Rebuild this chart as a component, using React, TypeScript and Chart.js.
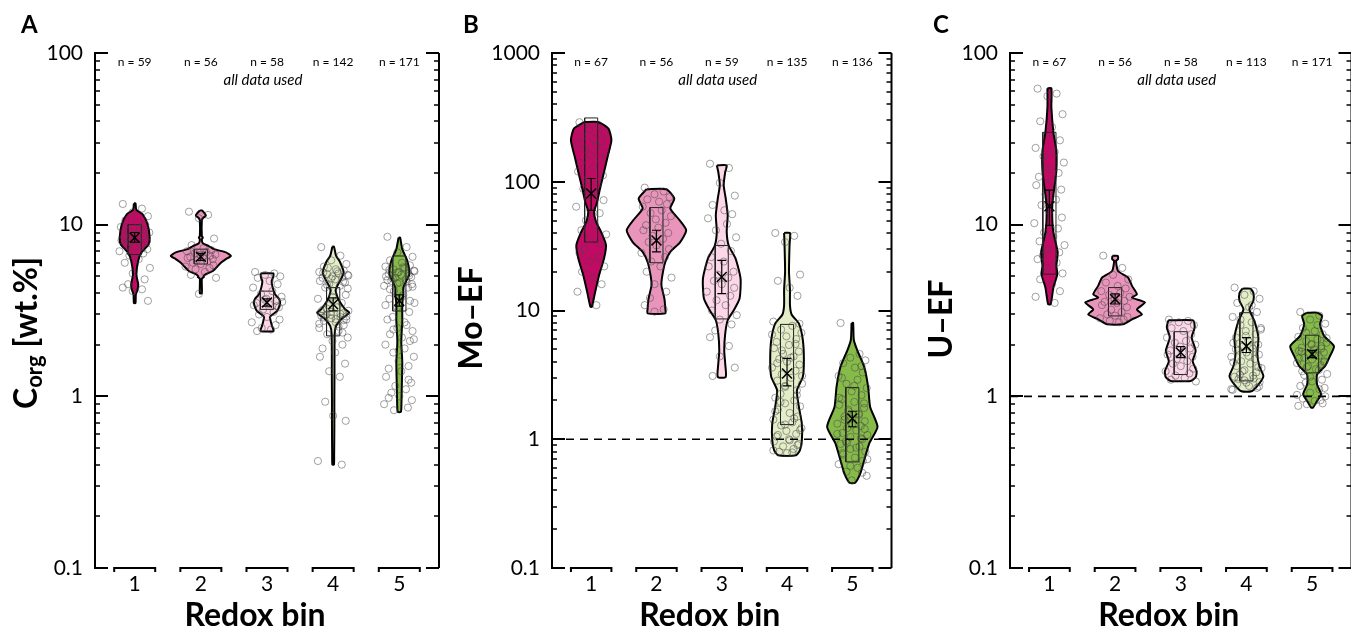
import React, { useEffect, useRef } from 'react';
import { Chart, registerables } from 'chart.js';

Chart.register(...registerables);
Chart.defaults.font.family = 'Lato';
Chart.defaults.color = '#000';

// ---------------- shared data ----------------
const BINS = [1, 2, 3, 4, 5];
const BIN_COLORS = ['#c20a64', '#e995bb', '#fcd7e8', '#e3edc8', '#86bb4a'];
// fixed horizontal jitter offsets (in bin units) for the scatter of samples
const JITTER = [-0.18, 0.11, -0.03, 0.2, -0.14, 0.04, 0.16, -0.21, 0.08, -0.09, 0.22, -0.01, 0.14, -0.16, 0.03, -0.2, 0.18, -0.06, 0.1, -0.12, 0.0, 0.19, -0.23, 0.13, -0.08, 0.06, -0.15, 0.23, -0.03, 0.15, -0.1];

// ---------------- Panel A : C_org ----------------
const A_N = [59, 56, 58, 142, 171];
const A_Y_TICKS = [0.1, 1, 10, 100];
// violin profiles: [value, half-width (bin units)]
const A_VIOLINS = [
  [[13.3, 0.012], [12.2, 0.025], [11.5, 0.12], [10.0, 0.197], [8.4, 0.227], [7.7, 0.212], [6.9, 0.106], [6.16, 0.053], [5.1, 0.026], [4.5, 0.053], [4.2, 0.045], [3.93, 0.018], [3.5, 0.012]],
  [[12.1, 0.015], [11.6, 0.06], [11.3, 0.076], [10.9, 0.03], [10.6, 0.015], [8.6, 0.015], [8.4, 0.03], [8.2, 0.015], [7.8, 0.03], [7.5, 0.12], [7.2, 0.2], [6.9, 0.379], [6.57, 0.455], [6.3, 0.379], [6.0, 0.303], [5.75, 0.258], [5.37, 0.182], [5.15, 0.076], [5.0, 0.04], [4.95, 0.045], [4.85, 0.015], [3.98, 0.015]],
  [[5.2, 0.098], [4.9, 0.09], [4.7, 0.071], [4.4, 0.08], [3.93, 0.121], [3.7, 0.18], [3.52, 0.2], [3.3, 0.18], [3.14, 0.152], [2.95, 0.06], [2.88, 0.045], [2.7, 0.06], [2.57, 0.076], [2.4, 0.098]],
  [[7.45, 0.012], [6.57, 0.045], [6.1, 0.1], [5.26, 0.159], [4.75, 0.11], [4.3, 0.05], [4.1, 0.038], [3.6, 0.091], [3.21, 0.182], [3.07, 0.242], [2.81, 0.121], [2.57, 0.045], [2.3, 0.023], [1.38, 0.02], [0.94, 0.018], [0.67, 0.018], [0.45, 0.015], [0.4, 0.012]],
  [[8.4, 0.012], [7.2, 0.045], [6.16, 0.121], [5.15, 0.152], [4.7, 0.106], [4.3, 0.061], [3.93, 0.061], [3.44, 0.045], [2.75, 0.045], [2.46, 0.038], [2.06, 0.03], [1.58, 0.045], [1.15, 0.038], [0.84, 0.03], [0.81, 0.02]],
];
const A_BOX = [[6.7, 10.0], [5.9, 7.2], [3.21, 4.1], [2.25, 4.3], [3.14, 6.57]];
const A_MEAN = [8.4, 6.5, 3.52, 3.44, 3.6];
const A_ERR = [[7.9, 9.0], [6.2, 6.8], [3.35, 3.7], [3.15, 3.75], [3.35, 3.9]];
const A_POINTS = [
  [13.2, 12.4, 11.8, 11.2, 10.6, 10.3, 10.0, 9.7, 9.5, 9.2, 9.0, 8.8, 8.6, 8.5, 8.3, 8.1, 8.0, 7.9, 7.7, 7.5, 7.4, 7.2, 7.0, 6.8, 6.6, 6.3, 6.0, 5.6, 5.2, 4.8, 4.5, 4.3, 4.2, 4.1, 3.6],
  [11.9, 11.4, 10.9, 8.3, 7.6, 7.3, 7.1, 7.0, 6.9, 6.8, 6.7, 6.65, 6.6, 6.5, 6.45, 6.4, 6.3, 6.2, 6.1, 6.0, 5.9, 5.8, 5.7, 5.6, 5.5, 5.3, 5.1, 4.9, 3.95],
  [5.3, 5.2, 5.1, 5.0, 4.9, 4.7, 4.5, 4.3, 4.1, 3.95, 3.8, 3.7, 3.6, 3.5, 3.45, 3.4, 3.3, 3.2, 3.1, 3.0, 2.9, 2.8, 2.7, 2.6, 2.5, 2.45, 2.4, 3.55, 3.65, 3.35],
  [7.4, 6.6, 6.2, 5.9, 5.7, 5.5, 5.4, 5.3, 5.2, 5.15, 5.1, 5.0, 4.95, 4.9, 4.8, 4.7, 4.6, 4.5, 4.4, 4.3, 4.1, 3.9, 3.7, 3.5, 3.4, 3.3, 3.2, 3.15, 3.1, 3.05, 3.0, 2.95, 2.9, 2.85, 2.8, 2.75, 2.7, 2.6, 2.5, 2.4, 2.3, 2.2, 2.1, 2.0, 1.9, 1.8, 1.7, 1.55, 1.4, 1.3, 0.93, 0.77, 0.72, 0.42, 0.4,
    5.6, 5.35, 5.25, 5.05, 4.85, 4.65, 3.25, 3.12, 3.02, 2.98, 2.92, 2.88, 2.82, 2.78, 2.65, 2.55, 4.45, 4.25, 3.8, 2.35],
  [8.5, 7.4, 6.9, 6.5, 6.2, 6.0, 5.8, 5.7, 5.6, 5.5, 5.4, 5.3, 5.2, 5.15, 5.1, 5.0, 4.95, 4.9, 4.8, 4.7, 4.6, 4.5, 4.4, 4.3, 4.1, 3.9, 3.7, 3.5, 3.3, 3.1, 2.9, 2.8, 2.6, 2.5, 2.4, 2.3, 2.2, 2.1, 2.0, 1.9, 1.8, 1.7, 1.6, 1.5, 1.45, 1.4, 1.3, 1.2, 1.15, 1.1, 1.05, 1.0, 0.95, 0.9, 0.86, 0.83,
    5.65, 5.45, 5.35, 5.25, 5.05, 4.85, 4.75, 4.65, 4.55, 4.35, 4.2, 3.8, 3.6, 3.4, 2.7, 2.45, 2.15, 1.85, 1.25, 0.98],
];

// ---------------- Panel B : Mo-EF ----------------
const B_N = [67, 56, 59, 135, 136];
const B_Y_TICKS = [0.1, 1, 10, 100, 1000];
const B_VIOLINS = [
  [[291, 0.106], [259, 0.265], [210, 0.31], [161, 0.258], [119, 0.197], [88.5, 0.136], [69.7, 0.091], [58.3, 0.045], [48.7, 0.076], [40.8, 0.152], [32.2, 0.227], [25.3, 0.197], [18.8, 0.121], [13.9, 0.061], [10.7, 0.012]],
  [[87.5, 0.152], [74, 0.273], [62, 0.212], [51.8, 0.333], [42, 0.455], [34, 0.364], [28.5, 0.212], [23.8, 0.136], [18.8, 0.091], [15.7, 0.076], [12.4, 0.121], [10.3, 0.136], [9.5, 0.136]],
  [[134, 0.076], [119, 0.053], [94, 0.03], [74, 0.061], [55, 0.091], [40.8, 0.076], [32, 0.106], [25.3, 0.212], [17.7, 0.288], [12.4, 0.273], [10, 0.182], [8.4, 0.091], [6.6, 0.053], [4.9, 0.038], [3.87, 0.053], [3.05, 0.061]],
  [[40, 0.045], [32, 0.038], [20, 0.03], [14.5, 0.045], [11, 0.045], [9.3, 0.07], [7.9, 0.182], [5.9, 0.242], [4.1, 0.258], [3.05, 0.242], [2.4, 0.152], [1.78, 0.182], [1.32, 0.227], [0.98, 0.227], [0.82, 0.197], [0.75, 0.136]],
  [[8.0, 0.012], [5.9, 0.023], [4.9, 0.076], [3.65, 0.182], [2.55, 0.242], [1.78, 0.273], [1.25, 0.386], [0.925, 0.258], [0.687, 0.182], [0.54, 0.121], [0.46, 0.045]],
];
const B_BOX = [[34, 313], [23.5, 63], [8.6, 32], [1.3, 7.8], [0.667, 2.52]];
const B_MEAN = [81, 35, 18.2, 3.24, 1.45];
const B_ERR = [[60, 106], [28.5, 42], [13.5, 24.5], [2.6, 4.25], [1.25, 1.65]];
const B_POINTS = [
  [290, 275, 255, 240, 225, 215, 205, 198, 190, 180, 170, 160, 150, 140, 130, 120, 112, 104, 96, 88, 80, 72, 64, 57, 50, 46, 42, 39, 36, 33, 30, 28, 26, 24, 22, 20, 18, 16, 14, 11],
  [90, 84, 80, 76, 73, 70, 67, 64, 60, 57, 54, 51, 48, 46, 44, 42, 40, 38, 36, 34, 32, 30, 28, 26, 24, 22, 20, 18, 16, 14, 12.5, 11, 10.2, 9.8],
  [138, 128, 98, 78, 66, 60, 56, 52, 47, 42, 37, 33, 29, 26, 24, 22, 20, 19, 18, 17, 16, 15, 14, 13, 12, 11, 10, 9.2, 8.5, 7.8, 7, 6.2, 5.3, 4.4, 3.6, 3.1],
  [40, 38, 34, 19, 17, 15, 13, 8.2, 7.6, 7.1, 6.7, 6.3, 6.0, 5.7, 5.4, 5.1, 4.8, 4.6, 4.4, 4.2, 4.0, 3.8, 3.6, 3.4, 3.2, 3.0, 2.85, 2.7, 2.55, 2.4, 2.25, 2.1, 2.0, 1.9, 1.8, 1.7, 1.6, 1.5, 1.42, 1.35, 1.28, 1.22, 1.16, 1.1, 1.05, 1.0, 0.96, 0.92, 0.88, 0.84, 0.8, 0.78,
    7.9, 6.5, 5.5, 4.9, 4.3, 3.9, 3.1, 2.6, 2.2, 1.95, 1.65, 1.45, 1.3, 1.18, 1.08, 0.98, 0.9, 0.82, 0.79],
  [8.0, 4.6, 4.3, 4.1, 3.9, 3.6, 3.3, 3.1, 2.9, 2.7, 2.5, 2.35, 2.2, 2.05, 1.95, 1.85, 1.75, 1.65, 1.58, 1.5, 1.44, 1.38, 1.32, 1.27, 1.22, 1.17, 1.12, 1.08, 1.04, 1.0, 0.96, 0.92, 0.88, 0.84, 0.8, 0.76, 0.72, 0.68, 0.64, 0.6, 0.56, 0.52, 0.48,
    3.7, 3.0, 2.6, 2.1, 1.9, 1.7, 1.55, 1.42, 1.3, 1.2, 1.1, 1.02, 0.94, 0.86, 0.78, 0.7, 0.62, 0.55],
];

// ---------------- Panel C : U-EF ----------------
const C_N = [67, 56, 58, 113, 171];
const C_Y_TICKS = [0.1, 1, 10, 100];
const C_VIOLINS = [
  [[62.3, 0.03], [48.2, 0.03], [34.5, 0.061], [26.9, 0.106], [20.6, 0.106], [16.5, 0.076], [13.2, 0.045], [10.5, 0.045], [9.0, 0.061], [6.9, 0.126], [5.76, 0.106], [5.15, 0.121], [4.3, 0.061], [3.44, 0.02]],
  [[6.58, 0.04], [6.3, 0.045], [6.16, 0.015], [5.37, 0.045], [4.92, 0.197], [4.4, 0.258], [3.93, 0.333], [3.76, 0.258], [3.52, 0.455], [3.21, 0.333], [3.0, 0.409], [2.81, 0.258], [2.63, 0.121]],
  [[2.77, 0.189], [2.52, 0.212], [2.2, 0.167], [1.84, 0.227], [1.6, 0.182], [1.4, 0.242], [1.29, 0.227], [1.23, 0.152]],
  [[4.24, 0.06], [4.0, 0.106], [3.6, 0.106], [3.21, 0.045], [2.75, 0.121], [2.2, 0.182], [1.76, 0.167], [1.5, 0.197], [1.31, 0.258], [1.17, 0.182], [1.07, 0.076]],
  [[3.07, 0.08], [2.94, 0.152], [2.63, 0.121], [2.25, 0.182], [1.96, 0.333], [1.72, 0.273], [1.5, 0.197], [1.34, 0.076], [1.17, 0.076], [1.03, 0.136], [0.94, 0.076], [0.86, 0.015]],
];
const C_BOX = [[5.15, 34.5], [2.94, 4.3], [1.34, 2.38], [1.23, 3.07], [1.37, 2.27]];
const C_MEAN = [12.8, 3.68, 1.8, 1.96, 1.76];
const C_ERR = [[9.9, 15.9], [3.45, 3.95], [1.68, 1.95], [1.8, 2.2], [1.68, 1.85]];
const C_POINTS = [
  [62, 58, 56, 44, 40, 37, 31, 28, 26.5, 25, 23, 21, 20, 19, 18, 17, 16, 15, 14, 13, 12, 11, 10.2, 9.5, 9, 8.5, 8, 7.6, 7.2, 6.9, 6.6, 6.3, 6, 5.6, 5.2, 4.8, 4.5, 4.1, 3.8, 3.5],
  [6.6, 5.6, 5.1, 4.8, 4.6, 4.4, 4.25, 4.1, 4.0, 3.9, 3.8, 3.7, 3.6, 3.55, 3.5, 3.4, 3.3, 3.2, 3.1, 3.0, 2.95, 2.9, 2.85, 2.8, 2.75, 2.7],
  [2.8, 2.75, 2.7, 2.6, 2.5, 2.4, 2.3, 2.2, 2.1, 2.05, 2.0, 1.95, 1.9, 1.85, 1.8, 1.75, 1.7, 1.65, 1.6, 1.55, 1.5, 1.45, 1.4, 1.36, 1.32, 1.28, 1.25, 1.22],
  [4.3, 4.1, 3.9, 3.7, 3.5, 3.3, 3.1, 2.9, 2.7, 2.6, 2.5, 2.4, 2.3, 2.2, 2.1, 2.05, 2.0, 1.95, 1.9, 1.85, 1.8, 1.75, 1.7, 1.65, 1.6, 1.55, 1.5, 1.46, 1.42, 1.38, 1.34, 1.3, 1.27, 1.24, 1.21, 1.18, 1.15, 1.12, 1.09,
    3.4, 2.8, 2.45, 2.25, 1.98, 1.88, 1.72, 1.58, 1.48, 1.4, 1.32, 1.26, 1.2, 1.14, 1.1],
  [3.1, 2.95, 2.8, 2.65, 2.5, 2.4, 2.3, 2.22, 2.15, 2.1, 2.05, 2.0, 1.96, 1.92, 1.88, 1.84, 1.8, 1.76, 1.72, 1.68, 1.64, 1.6, 1.56, 1.52, 1.48, 1.44, 1.4, 1.35, 1.3, 1.25, 1.2, 1.15, 1.1, 1.05, 1.0, 0.97, 0.94, 0.91, 0.88,
    2.6, 2.35, 2.18, 2.02, 1.9, 1.82, 1.74, 1.66, 1.58, 1.5, 1.42, 1.33, 1.22, 1.12, 1.02, 0.95, 0.9],
];

// ---------------- panel tables ----------------
const PANELS = [
  { letter: 'A', yTicks: A_Y_TICKS, n: A_N, violins: A_VIOLINS, box: A_BOX, mean: A_MEAN, err: A_ERR, points: A_POINTS, refLine: false,
    yTitle: [{ text: 'C', size: 32, dy: 0 }, { text: 'org', size: 22, dy: 5 }, { text: ' [wt.%]', size: 32, dy: 0 }] },
  { letter: 'B', yTicks: B_Y_TICKS, n: B_N, violins: B_VIOLINS, box: B_BOX, mean: B_MEAN, err: B_ERR, points: B_POINTS, refLine: true,
    yTitle: [{ text: 'Mo–EF', size: 32, dy: 0 }] },
  { letter: 'C', yTicks: C_Y_TICKS, n: C_N, violins: C_VIOLINS, box: C_BOX, mean: C_MEAN, err: C_ERR, points: C_POINTS, refLine: true,
    yTitle: [{ text: 'U–EF', size: 32, dy: 0 }] },
];

const LAYOUT = [
  { left: 0, width: 450, yWidth: 95, padRight: 11, letterX: 21, yTitleX: 37, yTitleY: 333 },
  { left: 450, width: 450, yWidth: 102, padRight: 4, letterX: 13, yTitleX: 32, yTitleY: 318 },
  { left: 900, width: 460, yWidth: 110, padRight: 7, letterX: 33, yTitleX: 52, yTitleY: 319 },
];

const X_MIN = 0.4;
const X_MAX = 5.6;
const BOX_HALF = 0.1;
const CAP_HALF = 0.068;
const BRACKET_HALF = 0.31;

function violinPolygon(prof: number[][], b: number) {
  const left = prof.map(([v, w]) => ({ x: b - w, y: v }));
  const right = [...prof].reverse().map(([v, w]) => ({ x: b + w, y: v }));
  return [...left, ...right, left[0]];
}

const violinFill = {
  id: 'violinFill',
  beforeDatasetDraw(chart: any, args: any) {
    const ds = chart.data.datasets[args.index];
    if (!ds.violinColor) return;
    const { ctx, chartArea } = chart;
    ctx.save();
    ctx.beginPath();
    ctx.rect(chartArea.left, chartArea.top, chartArea.right - chartArea.left, chartArea.bottom - chartArea.top);
    ctx.clip();
    ctx.beginPath();
    args.meta.dataset.path(ctx);
    ctx.closePath();
    ctx.fillStyle = ds.violinColor;
    ctx.fill();
    ctx.restore();
  },
};

function makeChart(canvas: HTMLCanvasElement, panel: any, layout: any) {
  const datasets: any[] = [];
  panel.violins.forEach((prof: number[][], i: number) => {
    datasets.push({
      type: 'line', data: violinPolygon(prof, BINS[i]), violinColor: BIN_COLORS[i],
      borderColor: '#000', borderWidth: 2, fill: false, pointRadius: 0, tension: 0.2, order: 6,
    });
  });
  datasets.push({
    type: 'line',
    data: panel.box.flatMap(([lo, hi]: number[], i: number) => {
      const b = BINS[i];
      return [{ x: b - BOX_HALF, y: lo }, { x: b + BOX_HALF, y: lo }, { x: b + BOX_HALF, y: hi }, { x: b - BOX_HALF, y: hi }, { x: b - BOX_HALF, y: lo }, { x: b, y: null }];
    }),
    borderColor: '#222', borderWidth: 1, fill: false, pointRadius: 0, tension: 0, order: 5,
  });
  datasets.push({
    type: 'line',
    data: panel.points.flatMap((vals: number[], i: number) => vals.map((v, j) => ({ x: BINS[i] + JITTER[j % JITTER.length], y: v }))),
    showLine: false, pointRadius: 3.6, pointBorderWidth: 1, pointBackgroundColor: 'rgba(0,0,0,0)',
    pointBorderColor: 'rgba(70,70,70,0.5)', order: 4,
  });
  datasets.push({
    type: 'line',
    data: panel.err.flatMap(([lo, hi]: number[], i: number) => {
      const b = BINS[i];
      return [{ x: b - CAP_HALF, y: hi }, { x: b + CAP_HALF, y: hi }, { x: b, y: null }, { x: b, y: hi }, { x: b, y: lo }, { x: b, y: null }, { x: b - CAP_HALF, y: lo }, { x: b + CAP_HALF, y: lo }, { x: b, y: null }];
    }),
    borderColor: '#000', borderWidth: 1.2, fill: false, pointRadius: 0, order: 2,
  });
  datasets.push({
    type: 'line',
    data: panel.mean.map((m: number, i: number) => ({ x: BINS[i], y: m })),
    showLine: false, pointStyle: 'crossRot', pointRadius: 7, pointBorderWidth: 1.5, pointBorderColor: '#000', order: 2,
  });
  if (panel.refLine) {
    datasets.push({
      type: 'line', data: [{ x: X_MIN, y: 1 }, { x: X_MAX, y: 1 }],
      borderColor: '#000', borderWidth: 1.6, borderDash: [8, 6], pointRadius: 0, fill: false, order: 1,
    });
  }

  const decor = {
    id: 'decor',
    afterDraw(chart: any) {
      const { ctx, chartArea: ca, scales } = chart;
      const x = scales.x, y = scales.y;
      ctx.save();
      ctx.strokeStyle = '#000';
      ctx.lineWidth = 2;
      ctx.beginPath();
      ctx.moveTo(ca.right, ca.top);
      ctx.lineTo(ca.right, ca.bottom);
      ctx.stroke();
      const lo = Math.round(Math.log10(y.min));
      const hi = Math.round(Math.log10(y.max));
      for (let d = lo; d <= hi; d++) {
        for (let m = 1; m <= 9; m++) {
          const v = m * Math.pow(10, d);
          if (v > y.max * 1.0001) break;
          const py = Math.round(y.getPixelForValue(v));
          const len = m === 1 ? 13 : 5;
          ctx.lineWidth = m === 1 ? 2 : 1.5;
          ctx.beginPath();
          ctx.moveTo(ca.left, py);
          ctx.lineTo(ca.left + len, py);
          ctx.moveTo(ca.right - len, py);
          ctx.lineTo(ca.right, py);
          ctx.stroke();
        }
      }
      ctx.lineWidth = 2;
      BINS.forEach((b) => {
        const x1 = x.getPixelForValue(b - BRACKET_HALF);
        const x2 = x.getPixelForValue(b + BRACKET_HALF);
        ctx.beginPath();
        ctx.moveTo(x1, ca.bottom + 4);
        ctx.lineTo(x1, ca.bottom);
        ctx.lineTo(x2, ca.bottom);
        ctx.lineTo(x2, ca.bottom + 4);
        ctx.stroke();
      });
      ctx.fillStyle = '#000';
      ctx.textAlign = 'center';
      ctx.textBaseline = 'middle';
      ctx.font = '12px Lato';
      panel.n.forEach((n: number, i: number) => ctx.fillText(`n = ${n}`, x.getPixelForValue(BINS[i]), 62));
      ctx.font = 'italic 15px Lato';
      ctx.fillText('all data used', (ca.left + ca.right) / 2 - 4, 80);
      ctx.textBaseline = 'alphabetic';
      ctx.font = 'bold 32px Lato';
      ctx.fillText('Redox bin', (ca.left + ca.right) / 2 - 12, 626);
      ctx.textAlign = 'left';
      ctx.font = 'bold 24px Lato';
      ctx.fillText(panel.letter, layout.letterX, 33);
      // rotated y title
      ctx.save();
      ctx.translate(layout.yTitleX, layout.yTitleY);
      ctx.rotate(-Math.PI / 2);
      let total = 0;
      const widths = panel.yTitle.map((p: any) => {
        ctx.font = `bold ${p.size}px Lato`;
        const w = ctx.measureText(p.text).width;
        total += w;
        return w;
      });
      let cx = -total / 2;
      panel.yTitle.forEach((p: any, i: number) => {
        ctx.font = `bold ${p.size}px Lato`;
        ctx.fillText(p.text, cx, p.dy);
        cx += widths[i];
      });
      ctx.restore();
      ctx.restore();
    },
  };

  return new Chart(canvas, {
    type: 'line',
    data: { datasets },
    options: {
      responsive: false,
      animation: false,
      events: [],
      layout: { padding: { left: 0, right: layout.padRight, top: 53, bottom: 0 } },
      plugins: { legend: { display: false }, tooltip: { enabled: false } },
      scales: {
        x: {
          type: 'linear', min: X_MIN, max: X_MAX,
          afterBuildTicks: (s: any) => { s.ticks = BINS.map((v) => ({ value: v })); },
          afterFit: (s: any) => { s.height = 61; },
          ticks: { autoSkip: false, maxRotation: 0, padding: 4, font: { size: 21 }, color: '#000', callback: (v: any) => String(v) },
          grid: { display: false, drawTicks: false },
          border: { display: false },
        },
        y: {
          type: 'logarithmic', min: panel.yTicks[0], max: panel.yTicks[panel.yTicks.length - 1],
          afterBuildTicks: (s: any) => { s.ticks = panel.yTicks.map((v: number) => ({ value: v })); },
          afterFit: (s: any) => { s.width = layout.yWidth; },
          ticks: { autoSkip: false, padding: 12, font: { size: 21 }, color: '#000', callback: (v: any) => String(v) },
          grid: { display: false, drawTicks: false },
          border: { display: true, color: '#000', width: 2 },
        },
      },
    } as any,
    plugins: [violinFill, decor],
  } as any);
}

function Panel({ panel, layout }: { panel: any; layout: any }) {
  const ref = useRef<HTMLCanvasElement>(null);
  useEffect(() => {
    const chart = makeChart(ref.current as HTMLCanvasElement, panel, layout);
    return () => chart.destroy();
  }, []);
  return (
    <canvas ref={ref} width={layout.width} height={629}
      style={{ position: 'absolute', left: layout.left, top: 0, width: layout.width, height: 629 }} />
  );
}

export default function App() {
  return (
    <div style={{ position: 'absolute', left: 0, top: 0, width: 1351, height: 629, overflow: 'hidden', background: '#fff' }}>
      {PANELS.map((p, i) => <Panel key={i} panel={p} layout={LAYOUT[i]} />)}
    </div>
  );
}
